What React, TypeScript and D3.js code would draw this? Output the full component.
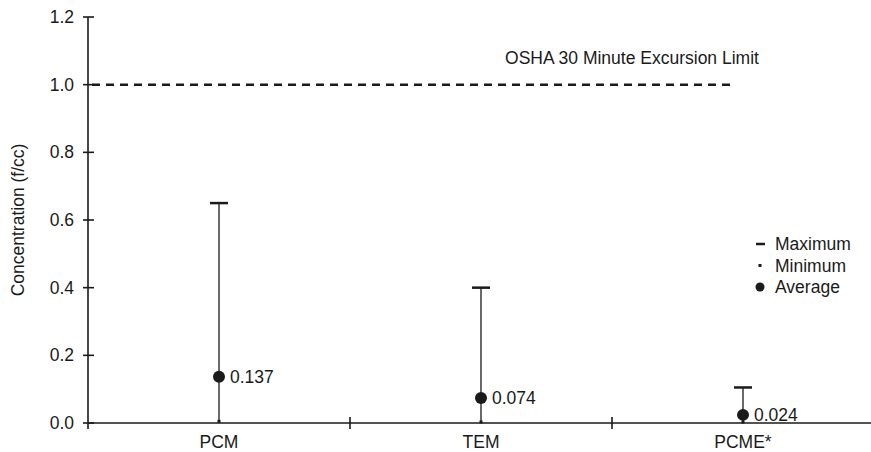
import React from 'react';
import * as d3 from 'd3';

const categories = ['PCM', 'TEM', 'PCME*'];
const maxValues = [0.65, 0.4, 0.105];
const minValues = [0.005, 0.003, 0.003];
const avgValues = [0.137, 0.074, 0.024];
const avgLabels = ['0.137', '0.074', '0.024'];
const yTicks = [0, 0.2, 0.4, 0.6, 0.8, 1.0, 1.2];
const limitValue = 1.0;
const limitLabel = 'OSHA 30 Minute Excursion Limit';
const legendItems = ['Maximum', 'Minimum', 'Average'];

const W = 871;
const H = 452;
const margin = { top: 17, right: -3, bottom: 29, left: 88 };

export default function App() {
  const x = d3.scaleBand<string>()
    .domain(categories)
    .range([margin.left, W - margin.right])
    .padding(0);
  const y = d3.scaleLinear()
    .domain([0, 1.2])
    .range([H - margin.bottom, margin.top]);

  const font = '"Liberation Sans", Arial, sans-serif';
  const fs = 17.5;
  const ink = '#1a1a1a';
  const y0 = y(0);
  const bandEdges = categories.slice(1).map((c) => x(c) as number);

  return (
    <svg width={W} height={H} style={{ position: 'absolute', left: 0, top: 0 }} fontFamily={font}>
      {/* y axis */}
      <line x1={margin.left} x2={margin.left} y1={y(1.2)} y2={y0 + 6} stroke={ink} strokeWidth={1.6} />
      {yTicks.map((t) => (
        <g key={t}>
          <line x1={margin.left - 5} x2={margin.left + 6} y1={y(t)} y2={y(t)} stroke={ink} strokeWidth={1.6} />
          <text x={margin.left - 14} y={y(t)} dy="0.35em" textAnchor="end" fontSize={fs} fill={ink}>
            {t.toFixed(1)}
          </text>
        </g>
      ))}
      <text
        transform={`translate(24,${y(0.6)}) rotate(-90)`}
        textAnchor="middle"
        fontSize={fs}
        fill={ink}
      >
        Concentration (f/cc)
      </text>

      {/* x axis */}
      <line x1={margin.left} x2={W} y1={y0} y2={y0} stroke={ink} strokeWidth={1.6} />
      {bandEdges.map((e) => (
        <line key={e} x1={e} x2={e} y1={y0 - 6} y2={y0 + 6} stroke={ink} strokeWidth={1.6} />
      ))}
      {categories.map((c) => (
        <text key={c} x={(x(c) as number) + x.bandwidth() / 2} y={y0 + 25} textAnchor="middle" fontSize={fs} fill={ink}>
          {c}
        </text>
      ))}

      {/* limit line */}
      <line x1={margin.left + 4} x2={730} y1={y(limitValue)} y2={y(limitValue)} stroke={ink} strokeWidth={2.5} strokeDasharray="8,6" />
      <text x={632} y={y(limitValue) - 21} textAnchor="middle" fontSize={fs} fill={ink}>
        {limitLabel}
      </text>

      {/* range bars */}
      {categories.map((c, i) => {
        const cx = (x(c) as number) + x.bandwidth() / 2;
        return (
          <g key={c}>
            <line x1={cx} x2={cx} y1={y(maxValues[i])} y2={y(minValues[i])} stroke={ink} strokeWidth={1.3} />
            <line x1={cx - 9} x2={cx + 9} y1={y(maxValues[i])} y2={y(maxValues[i])} stroke={ink} strokeWidth={2.5} />
            <rect x={cx - 1.5} y={y(minValues[i]) - 1.5} width={3} height={3} fill={ink} />
            <circle cx={cx} cy={y(avgValues[i])} r={6} fill={ink} />
            <text x={cx + 11} y={y(avgValues[i])} dy="0.35em" fontSize={fs} fill={ink}>
              {avgLabels[i]}
            </text>
          </g>
        );
      })}

      {/* legend */}
      {legendItems.map((l, i) => {
        const ly = 244 + i * 21.5;
        return (
          <g key={l}>
            {i === 0 && <line x1={756} x2={765} y1={ly} y2={ly} stroke={ink} strokeWidth={2.5} />}
            {i === 1 && <rect x={758.5} y={ly - 1.5} width={3} height={3} fill={ink} />}
            {i === 2 && <circle cx={760} cy={ly} r={4.5} fill={ink} />}
            <text x={775} y={ly} dy="0.35em" fontSize={fs} fill={ink}>{l}</text>
          </g>
        );
      })}
    </svg>
  );
}
